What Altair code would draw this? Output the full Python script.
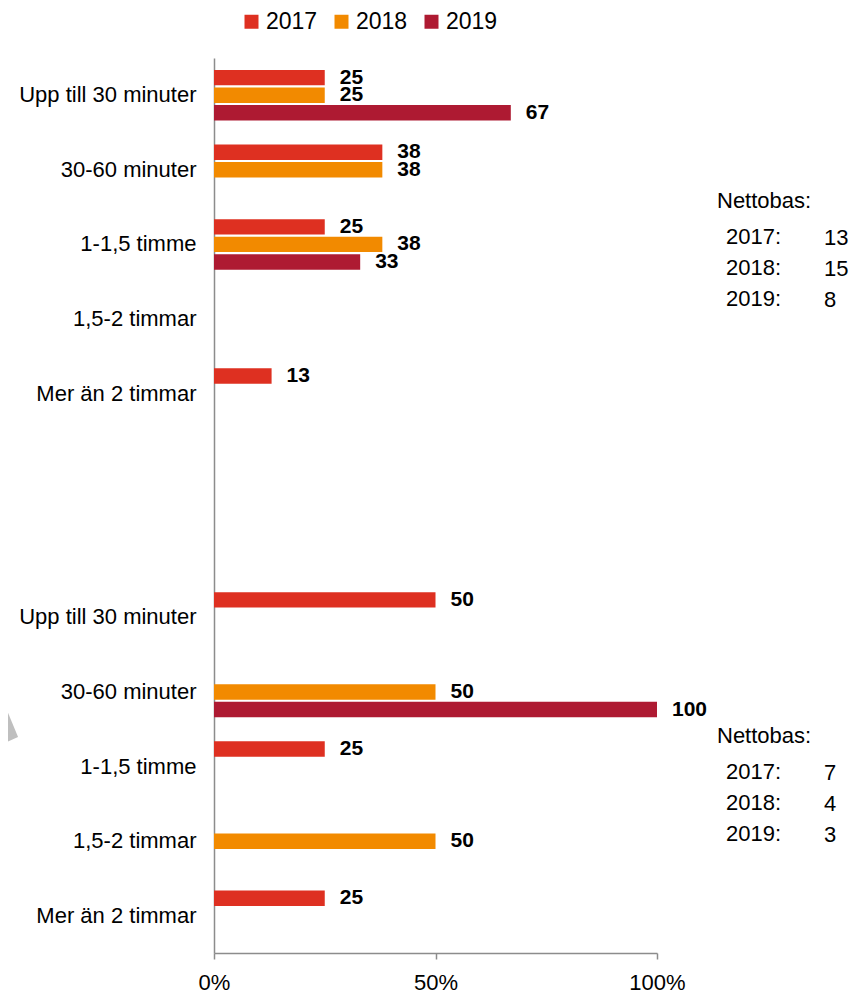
import altair as alt
import pandas as pd

# ---------------- data ----------------
years = ["2017", "2018", "2019"]
colors = ["#DE3021", "#F28A00", "#AE1A32"]
categories = ["Upp till 30 minuter", "30-60 minuter", "1-1,5 timme", "1,5-2 timmar", "Mer än 2 timmar"]

# group 1 (upper block)
g1_2017 = [25, 38, 25, None, 13]
g1_2018 = [25, 38, 38, None, None]
g1_2019 = [67, None, 33, None, None]
# group 2 (lower block)
g2_2017 = [50, None, 25, None, 25]
g2_2018 = [None, 50, None, 50, None]
g2_2019 = [None, 100, None, None, None]

x_ticks = [0, 50, 100]

nettobas_label = "Nettobas:"
nettobas_years = ["2017:", "2018:", "2019:"]
nettobas_g1 = [13, 15, 8]
nettobas_g2 = [7, 4, 3]

# ---------------- table ----------------
keys = ([f"1|{c}" for c in categories] + ["g1|", "g2|"] + [f"2|{c}" for c in categories])
rows = []
for grp, series in (("1", [g1_2017, g1_2018, g1_2019]), ("2", [g2_2017, g2_2018, g2_2019])):
    for yr, vals in zip(years, series):
        for cat, v in zip(categories, vals):
            if v is not None:
                rows.append({"key": f"{grp}|{cat}", "year": yr, "value": v})
df = pd.DataFrame(rows)

FONT = "Liberation Sans"
W, H = 443, 895
AXIS_GREY = "#8C8C8C"

y_enc = alt.Y("key:N", sort=keys,
              scale=alt.Scale(domain=keys, paddingInner=0.323, paddingOuter=0.16),
              axis=alt.Axis(title=None, ticks=False, labelPadding=18, labelFontSize=22,
                            labelColor="#000000", labelLimit=400, domainColor=AXIS_GREY,
                            domainWidth=1.5, labelFont=FONT,
                            labelExpr="split(datum.value, '|')[1]"))
yoff_enc = alt.YOffset("year:N", scale=alt.Scale(domain=years, paddingInner=0.12, paddingOuter=0))
x_enc = alt.X("value:Q", scale=alt.Scale(domain=[0, 100], nice=False),
              axis=alt.Axis(title=None, values=x_ticks, grid=False, tickSize=6,
                            tickColor=AXIS_GREY, tickWidth=1.5, domainColor=AXIS_GREY,
                            domainWidth=1.5, labelFontSize=22, labelColor="#000000",
                            labelPadding=13, labelFont=FONT, labelFlush=False,
                            labelExpr="datum.value + '%'"))

base = alt.Chart(df)

bars = base.mark_bar().encode(
    x=x_enc, y=y_enc, yOffset=yoff_enc,
    color=alt.Color("year:N", scale=alt.Scale(domain=years, range=colors),
                    legend=alt.Legend(title=None, orient="none", legendX=26, legendY=-48,
                                      direction="horizontal", symbolType="square",
                                      symbolSize=196, symbolStrokeWidth=0,
                                      labelFontSize=23, labelFont=FONT, labelColor="#000000",
                                      labelOffset=3, columnPadding=12, padding=0)),
)

labels = base.mark_text(align="left", baseline="middle", dx=15, fontSize=21,
                        fontWeight="bold", font=FONT, color="#000000").encode(
    x="value:Q", y=alt.Y("key:N", sort=keys), yOffset="year:N",
    text=alt.Text("value:Q", format="d"),
)

# ---------------- annotations ----------------
one = pd.DataFrame({"_": [0]})


def txt(s, x, y):
    return alt.Chart(one).mark_text(align="left", baseline="middle", fontSize=22,
                                    font=FONT, color="#000000").encode(
        x=alt.value(x), y=alt.value(y), text=alt.value(s))


ann = []
for vals, y0 in ((nettobas_g1, 143), (nettobas_g2, 678)):
    ann.append(txt(nettobas_label, 503, y0))
    for i, (yl, v) in enumerate(zip(nettobas_years, vals)):
        yy = y0 + 36 + i * 31
        ann.append(txt(yl, 512, yy))
        ann.append(txt(str(v), 610, yy + 1))

# grey arrow fragment at left edge
arrow = alt.Chart(one).mark_point(
    shape="M -0.16 -1 L 0.49 0.57 L -0.49 1 L -1.6 1.4 L -1.6 -0.2 Z",
    filled=True, color="#BFBFBF", opacity=1, size=1369, strokeWidth=0).encode(
    x=alt.value(-205), y=alt.value(668.5))

chart = alt.layer(bars, labels, *ann, arrow).properties(
    width=W, height=H,
    autosize=alt.AutoSizeParams(type="none"),
    padding={"left": 206, "top": 50, "right": 200, "bottom": 40},
).configure(font=FONT).configure_view(stroke=None)

chart.save("out.html", embed_options={"renderer": "svg", "actions": False})
